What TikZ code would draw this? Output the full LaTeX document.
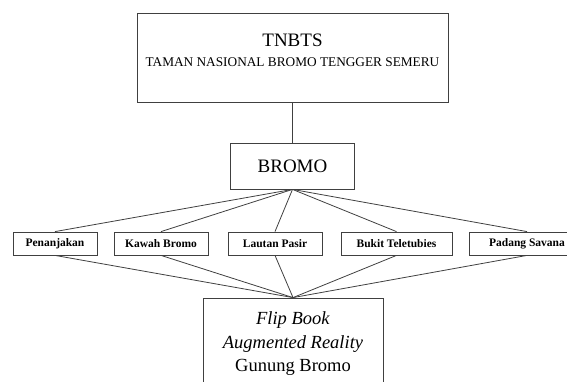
\documentclass[tikz,border=0pt]{standalone}
\usepackage{fontspec}
\setmainfont{Liberation Serif}
\usetikzlibrary{positioning}

\tikzset{
  box/.style={draw=black!75, line width=0.8pt, rectangle, inner sep=0pt},
  spot/.style={box, minimum height=23pt, font=\bfseries\fontsize{11.5}{12}\selectfont},
  link/.style={draw=black!75, line width=0.8pt}
}

\begin{document}
\begin{tikzpicture}[x=1pt,y=-1pt]
\useasboundingbox (0,0) rectangle (567,382);

% Top box
\node [box,
    minimum width=311pt,
    minimum height=89pt] (tnbts) at (292.5,57.5){};
\node [align=center, inner sep=0pt] (tnbtsText) at (292.5,50)
    {{\fontsize{19}{20}\selectfont TNBTS}\\[8pt]
     {\fontsize{13.3}{20}\selectfont TAMAN NASIONAL BROMO TENGGER SEMERU}};

% Mountain
\node [box,
    minimum width=124pt,
    minimum height=46pt,
    font=\fontsize{19}{22}\selectfont] (bromo) at (292.5,166){BROMO};

% Spots
\node [spot, minimum width=84pt] (penanjakan) at (55,243.5){Penanjakan};
\node [spot, minimum width=94pt] (kawah) at (161,243.5){Kawah Bromo};
\node [spot, minimum width=94pt] (lautan) at (275,243.5){Lautan Pasir};
\node [spot, minimum width=111pt] (bukit) at (396.5,243.5){Bukit Teletubies};
\node [spot, minimum width=116pt] (padang) at (527,243.5){Padang Savana};

% Product
\node [box,
    minimum width=180pt,
    minimum height=92pt,
    align=center,
    font=\fontsize{18.5}{23.5}\selectfont] (flipbook) at (293,344)
    {\textit{Flip Book}\\ \textit{Augmented Reality}\\ Gunung Bromo};

% Connections
\draw [link] (tnbts.south) -- (bromo.north);
\foreach \s in {penanjakan,kawah,lautan,bukit,padang}{
  \draw [link] (bromo.south) -- (\s.north);
  \draw [link] (\s.south) -- (flipbook.north);
}

\end{tikzpicture}
\end{document}
